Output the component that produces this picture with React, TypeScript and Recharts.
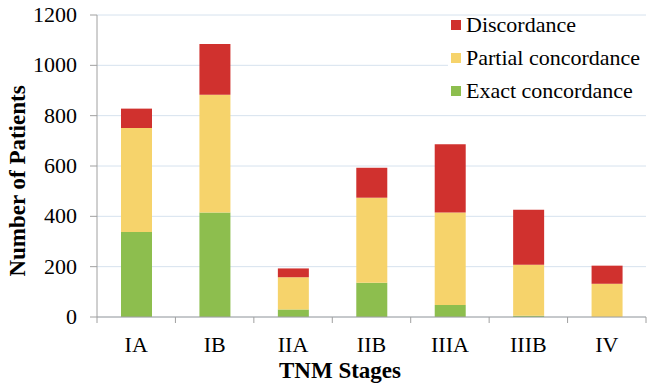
import { BarChart, Bar, XAxis, YAxis, CartesianGrid } from "recharts";

// stage categories and stacked counts
const stages = ["IA", "IB", "IIA", "IIB", "IIIA", "IIIB", "IV"];
const exactConcordance = [338, 415, 30, 136, 48, 5, 0];
const partialConcordance = [413, 468, 128, 338, 367, 203, 132];
const discordance = [77, 202, 35, 119, 271, 218, 72];
const yTicks = [0, 200, 400, 600, 800, 1000, 1200];

const legendItems = [
  { name: "Discordance", color: "#d0312e" },
  { name: "Partial concordance", color: "#f6d36b" },
  { name: "Exact concordance", color: "#8dbe4e" },
];

const data = stages.map((stage, i) => ({
  stage,
  exact: exactConcordance[i],
  partial: partialConcordance[i],
  discord: discordance[i],
}));

const FONT = '"Liberation Serif", "Times New Roman", serif';

// category tick: label in the middle, small tick marks on the band edges (excel style)
const StageTick = (props: any) => {
  const { x, y, payload, index } = props;
  const off = payload.offset ?? 0;
  return (
    <g>
      <line x1={x - off} x2={x - off} y1={y} y2={y + 6} stroke="#a0a0a0" />
      {index === stages.length - 1 && (
        <line x1={x + off} x2={x + off} y1={y} y2={y + 6} stroke="#a0a0a0" />
      )}
      <text x={x} y={y + 35} textAnchor="middle" fontSize={22} fontFamily={FONT} fill="#000">
        {payload.value}
      </text>
    </g>
  );
};

const CountTick = (props: any) => {
  const { x, y, payload } = props;
  return (
    <text x={x} y={y} dy={7} textAnchor="end" fontSize={22} fontFamily={FONT} fill="#000">
      {payload.value}
    </text>
  );
};

export default function App() {
  return (
    <div style={{ position: "absolute", left: 0, top: 0, width: 653, height: 390, background: "#fff" }}>
      <BarChart width={653} height={390} data={data} margin={{ top: 15, right: 7, left: 0, bottom: 0 }}>
        <CartesianGrid vertical={false} stroke="#d6e2ee" />
        <XAxis
          dataKey="stage"
          height={73}
          tickLine={false}
          tickSize={0}
          tickMargin={0}
          axisLine={{ stroke: "#a0a0a0" }}
          tick={<StageTick />}
          interval={0}
          label={{
            content: () => (
              <text x={340} y={378} textAnchor="middle" fontSize={23} fontWeight="bold" fontFamily={FONT} fill="#000">
                TNM Stages
              </text>
            ),
          }}
        />
        <YAxis
          width={97}
          domain={[0, 1200]}
          ticks={yTicks}
          interval={0}
          tickSize={7}
          tickMargin={13}
          axisLine={{ stroke: "#a0a0a0" }}
          tickLine={{ stroke: "#a0a0a0" }}
          tick={<CountTick />}
          label={{
            content: () => (
              <text
                x={25}
                y={181}
                textAnchor="middle"
                fontSize={23}
                fontWeight="bold"
                fontFamily={FONT}
                fill="#000"
                transform="rotate(-90, 25, 181)"
              >
                Number of Patients
              </text>
            ),
          }}
        />
        <Bar dataKey="exact" stackId="a" fill="#8dbe4e" barSize={31} isAnimationActive={false} />
        <Bar dataKey="partial" stackId="a" fill="#f6d36b" barSize={31} isAnimationActive={false} />
        <Bar dataKey="discord" stackId="a" fill="#d0312e" barSize={31} isAnimationActive={false} />
      </BarChart>

      {/* legend box, white background hides the grid lines behind it */}
      <div style={{ position: "absolute", left: 448, top: 17, width: 200, height: 88, background: "#fff" }} />
      {legendItems.map((item, i) => (
        <div
          key={item.name}
          style={{
            position: "absolute",
            left: 451,
            top: 8 + i * 33,
            height: 33,
            lineHeight: "33px",
            display: "flex",
            alignItems: "center",
            fontFamily: FONT,
            fontSize: 22,
            whiteSpace: "nowrap",
            color: "#000",
          }}
        >
          <span style={{ width: 10, height: 10, background: item.color, marginRight: 5, display: "inline-block" }} />
          {item.name}
        </div>
      ))}
    </div>
  );
}
